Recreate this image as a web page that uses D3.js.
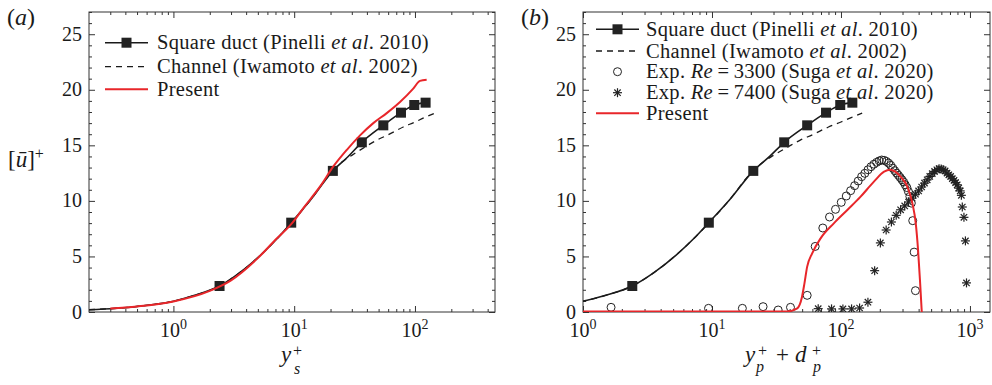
<!DOCTYPE html>
<html>
<head>
<meta charset="utf-8">
<script src="https://cdn.jsdelivr.net/npm/d3@7"></script>
<style>
  body { margin: 0; background: #fff; }
  svg { display: block; font-family: "Liberation Serif", "Times New Roman", serif; }
</style>
</head>
<body>
<svg id="chart" width="992" height="385"></svg>
<script>
// ---- data ----
// square duct DNS (Pinelli et al. 2010): line + markers
const ductYs = [0.2, 0.5, 1, 1.5, 2.41, 3.5, 5.3, 7.5, 9.45, 13.7, 20.9, 28, 36.3, 54.7, 76.6, 98.7, 122.5];
const ductU  = [0.2, 0.5, 0.97, 1.5, 2.34, 3.5, 5.15, 6.8, 8.04, 10.1, 12.7, 14.0, 15.27, 16.8, 17.94, 18.63, 18.84];
const ductMarkYs = [2.41, 9.45, 20.9, 36.3, 54.7, 76.6, 98.7, 122.5];
const ductMarkU  = [2.34, 8.04, 12.7, 15.27, 16.8, 17.94, 18.63, 18.84];
// channel (Iwamoto et al. 2002)
const chanYs = [0.2, 0.5, 1, 1.5, 2.41, 3.5, 5.3, 7.5, 9.45, 13.7, 20, 25.6, 30, 40, 48, 60, 80, 100, 120, 146];
const chanU  = [0.2, 0.5, 0.97, 1.5, 2.34, 3.5, 5.15, 6.8, 8.0, 10.1, 12.5, 13.6, 14.1, 14.95, 15.45, 15.95, 16.65, 17.1, 17.5, 17.9];
// present, panel (a)
const presAYs = [0.3, 0.5, 1, 2, 3, 5, 7, 9.45, 12, 16.4, 21.1, 27.3, 35.1, 45.2, 58.4, 75.2, 96.8, 110, 125];
const presAU  = [0.32, 0.5, 0.95, 1.9, 2.85, 4.85, 6.5, 7.9, 9.4, 11.3, 13.1, 14.6, 15.9, 17.0, 17.9, 18.9, 20.1, 20.8, 20.9];
// present, panel (b)
const presBYs = [1, 30, 38, 45.8, 49.9, 52.1, 54.7, 59.8, 69.5, 88, 112, 142, 180, 216, 240, 290, 327, 358, 380, 396, 411, 423];
const presBU  = [0.05, 0.05, 0.05, 0.33, 1.38, 2.58, 4.08, 5.28, 6.63, 7.98, 9.18, 10.38, 11.73, 12.63, 12.8, 12.18, 11.28, 9.78, 7.98, 5.58, 2.58, 0];
// experiment Re = 3300 (Suga et al. 2020)
const exp33Ys = [1.65, 9.4, 17.2, 24.9, 32.6, 40.6, 54.7, 63.1, 72.3, 81.5, 90.7, 100.5, 109.9, 118.8, 127.6, 136, 144.5, 153,
  162, 171, 180, 189, 198, 207, 216, 225, 234, 243, 252, 261, 270, 279, 288, 297, 306, 315, 324, 333, 342, 351, 360, 369, 378];
const exp33U  = [0.42, 0.33, 0.33, 0.48, 0.18, 0.42, 1.5, 5.9, 7.56, 8.55, 9.24, 9.87, 10.44, 10.92, 11.37, 11.79, 12.18, 12.48,
  12.8, 13.08, 13.3, 13.47, 13.6, 13.68, 13.65, 13.55, 13.4, 13.2, 12.95, 12.72, 12.5, 12.3, 12.1, 11.9, 11.7, 11.45, 11.2, 10.85, 10.4, 9.8, 8.22, 5.39, 1.92];
// experiment Re = 7400 (Suga et al. 2020)
const exp74Ys = [66.6, 84.5, 103.5, 120.8, 139.4, 161.8, 182.4, 202, 224, 246, 268, 290, 312, 334, 356, 378, 400, 422, 444, 466,
  488, 510, 532, 554, 576, 598, 620, 642, 664, 686, 708, 730, 752, 774, 796, 818, 840, 858, 872, 898, 922, 940];
const exp74U  = [0.3, 0.28, 0.28, 0.28, 0.36, 0.88, 3.72, 6.22, 7.38, 8.1, 8.7, 9.2, 9.55, 9.9, 10.25, 10.6, 10.9, 11.25, 11.6, 11.9,
  12.2, 12.45, 12.65, 12.8, 12.9, 12.88, 12.8, 12.7, 12.5, 12.35, 12.2, 12.0, 11.85, 11.65, 11.45, 11.15, 10.9, 10.5, 9.45, 8.52, 6.4, 2.62];

const yTicks = [0, 5, 10, 15, 20, 25];
const legendA = ["Square duct", "Channel", "Present"];
const legendB = ["Square duct", "Channel", "Exp3300", "Exp7400", "Present"];

const RED = "#e8262a";
const INK = "#1a1a1a";
const plotTop = 12, plotBottom = 312;

const svg = d3.select("#chart");
const zip = (xs, ys) => xs.map((v, i) => [v, ys[i]]);

function minorTicks(dom) {
  let out = [];
  for (let e = -1; e <= 3; e++) {
    for (let k = 2; k <= 9; k++) {
      const v = k * Math.pow(10, e);
      if (v > dom[0] && v < dom[1]) out.push(v);
    }
  }
  return out;
}

function makePanel(id, left, right, xDom, decades) {
  const x = d3.scaleLog().domain(xDom).range([left, right]);
  const y = d3.scaleLinear().domain([0, 27]).range([plotBottom, plotTop]);
  const g = svg.append("g").attr("class", "panel-" + id);

  g.append("clipPath").attr("id", "clip-" + id)
    .append("rect").attr("x", left).attr("y", plotTop).attr("width", right - left).attr("height", plotBottom - plotTop);

  const minors = minorTicks(xDom);
  const yMinor = d3.range(0, 28).filter(v => v % 5 != 0);

  // tick marks, all pointing inwards
  const axes = [
    [d3.axisBottom(x).tickValues(decades).tickSize(-6), `translate(0,${plotBottom})`],
    [d3.axisBottom(x).tickValues(minors).tickSize(-3), `translate(0,${plotBottom})`],
    [d3.axisTop(x).tickValues(decades).tickSize(-6), `translate(0,${plotTop})`],
    [d3.axisTop(x).tickValues(minors).tickSize(-3), `translate(0,${plotTop})`],
    [d3.axisLeft(y).tickValues(yTicks).tickSize(-6), `translate(${left},0)`],
    [d3.axisLeft(y).tickValues(yMinor).tickSize(-3), `translate(${left},0)`],
    [d3.axisRight(y).tickValues(yTicks).tickSize(-6), `translate(${right},0)`],
    [d3.axisRight(y).tickValues(yMinor).tickSize(-3), `translate(${right},0)`]
  ];
  axes.forEach(a => {
    const ax = g.append("g").attr("transform", a[1]).call(a[0].tickFormat("").tickSizeOuter(0));
    ax.select(".domain").remove();
    ax.selectAll("line").attr("stroke", "#333").attr("stroke-width", 1);
  });

  // y labels
  g.selectAll("text.ylab").data(yTicks).join("text")
    .attr("class", "ylab")
    .attr("x", left - 7).attr("y", d => y(d)).attr("dy", "0.33em")
    .attr("text-anchor", "end").attr("font-size", 20).attr("fill", INK)
    .text(d => d);

  // x labels 10^n
  const xl = g.selectAll("text.xlab").data(decades).join("text")
    .attr("class", "xlab")
    .attr("x", d => x(d)).attr("y", 336.5)
    .attr("text-anchor", "middle").attr("font-size", 20).attr("fill", INK);
  xl.append("tspan").text("10");
  xl.append("tspan").attr("dy", -8).attr("font-size", 14).text(d => Math.round(Math.log10(d)));

  // frame
  g.append("rect").attr("x", left).attr("y", plotTop)
    .attr("width", right - left).attr("height", plotBottom - plotTop)
    .attr("fill", "none").attr("stroke", "#333").attr("stroke-width", 1);

  const plot = g.append("g").attr("clip-path", `url(#clip-${id})`);
  return { x, y, g, plot };
}

function drawLine(p, data, opts) {
  const line = d3.line().x(d => p.x(d[0])).y(d => p.y(d[1])).curve(d3.curveMonotoneX);
  p.plot.append("path").datum(data)
    .attr("fill", "none")
    .attr("stroke", opts.color)
    .attr("stroke-width", opts.width)
    .attr("stroke-dasharray", opts.dash || null)
    .attr("d", line);
}

function drawSquares(p, data) {
  p.plot.selectAll("rect.sq").data(data).join("rect")
    .attr("class", "sq")
    .attr("x", d => p.x(d[0]) - 5).attr("y", d => p.y(d[1]) - 5)
    .attr("width", 10).attr("height", 10)
    .attr("fill", "#222");
}

function asterisk(sel, cx, cy, r) {
  [0, 45, 90, 135].forEach(a => {
    const t = a * Math.PI / 180;
    sel.append("line")
      .attr("x1", cx - r * Math.cos(t)).attr("y1", cy - r * Math.sin(t))
      .attr("x2", cx + r * Math.cos(t)).attr("y2", cy + r * Math.sin(t))
      .attr("stroke", "#222").attr("stroke-width", 1.2);
  });
}

// ---------- panel (a) ----------
const pa = makePanel("a", 89, 495, [0.2, 460], [1, 10, 100]);
drawLine(pa, zip(chanYs, chanU), { color: INK, width: 1.3, dash: "6,5" });
drawLine(pa, zip(ductYs, ductU), { color: INK, width: 1.6 });
drawSquares(pa, zip(ductMarkYs, ductMarkU));
drawLine(pa, zip(presAYs, presAU), { color: RED, width: 2 });

// ---------- panel (b) ----------
const pb = makePanel("b", 583, 990, [1, 1430], [1, 10, 100, 1000]);
drawLine(pb, zip(chanYs, chanU), { color: INK, width: 1.3, dash: "6,5" });
drawLine(pb, zip(ductYs, ductU), { color: INK, width: 1.6 });
drawSquares(pb, zip(ductMarkYs, ductMarkU));
pb.plot.selectAll("circle.e33").data(zip(exp33Ys, exp33U)).join("circle")
  .attr("class", "e33")
  .attr("cx", d => pb.x(d[0])).attr("cy", d => pb.y(d[1])).attr("r", 4)
  .attr("fill", "none").attr("stroke", "#222").attr("stroke-width", 1);
const starG = pb.plot.append("g");
zip(exp74Ys, exp74U).forEach(d => asterisk(starG, pb.x(d[0]), pb.y(d[1]), 4.5));
drawLine(pb, zip(presBYs, presBU), { color: RED, width: 2 });

// ---------- legends ----------
function legendText(t, xPos, yPos, parts) {
  const el = svg.append("text").attr("x", xPos).attr("y", yPos + 6.5)
    .attr("font-size", 20.5).attr("letter-spacing", 0.3).attr("fill", INK);
  parts.forEach(pt => {
    el.append("tspan").attr("font-style", pt[1] ? "italic" : null).text(pt[0]);
  });
}
const labelParts = {
  "Square duct": [["Square duct (Pinelli ", 0], ["et al", 1], [". 2010)", 0]],
  "Channel": [["Channel (Iwamoto ", 0], ["et al", 1], [". 2002)", 0]],
  "Exp3300": [["Exp. ", 0], ["Re", 1], ["\u2009=\u20093300 (Suga ", 0], ["et al", 1], [". 2020)", 0]],
  "Exp7400": [["Exp. ", 0], ["Re", 1], ["\u2009=\u20097400 (Suga ", 0], ["et al", 1], [". 2020)", 0]],
  "Present": [["Present", 0]]
};

function drawLegend(keys, x0, x1, tx, rows) {
  const mid = (x0 + x1) / 2;
  keys.forEach((k, i) => {
    const yy = rows[i];
    if (k == "Square duct") {
      svg.append("line").attr("x1", x0).attr("x2", x1).attr("y1", yy).attr("y2", yy)
        .attr("stroke", INK).attr("stroke-width", 1.6);
      svg.append("rect").attr("x", mid - 5).attr("y", yy - 5).attr("width", 10).attr("height", 10).attr("fill", "#222");
    } else if (k == "Channel") {
      svg.append("line").attr("x1", x0).attr("x2", x1).attr("y1", yy).attr("y2", yy)
        .attr("stroke", INK).attr("stroke-width", 1.3).attr("stroke-dasharray", "6,5");
    } else if (k == "Present") {
      svg.append("line").attr("x1", x0).attr("x2", x1).attr("y1", yy).attr("y2", yy)
        .attr("stroke", RED).attr("stroke-width", 2);
    } else if (k == "Exp3300") {
      svg.append("circle").attr("cx", mid).attr("cy", yy).attr("r", 4)
        .attr("fill", "none").attr("stroke", "#222").attr("stroke-width", 1);
    } else {
      asterisk(svg.append("g"), mid, yy, 4.5);
    }
    legendText(k, tx, yy, labelParts[k]);
  });
}
drawLegend(legendA, 105, 148, 157, [42.7, 66.7, 89.3]);
drawLegend(legendB, 596, 639, 646, [29.3, 51, 71.7, 92.7, 113.3]);

// ---------- panel tags and axis titles ----------
function tag(txt, xPos) {
  const t = svg.append("text").attr("x", xPos).attr("y", 25).attr("font-size", 24).attr("fill", INK);
  t.append("tspan").text("(");
  t.append("tspan").attr("font-style", "italic").text(txt);
  t.append("tspan").text(")");
}
tag("a", 7);
tag("b", 521);

function put(txt, xPos, yPos, size, italic) {
  svg.append("text").attr("x", xPos).attr("y", yPos).attr("font-size", size)
    .attr("font-style", italic ? "italic" : null).attr("fill", INK).text(txt);
}
// y-axis title [ū]+
const yt = svg.append("text").attr("x", 8).attr("y", 167).attr("font-size", 23).attr("fill", INK);
yt.append("tspan").text("[");
yt.append("tspan").attr("font-style", "italic").text("\u016B");
yt.append("tspan").text("]");
yt.append("tspan").attr("dy", -8).attr("font-size", 16).text("+");

// x title (a): y_s^+
put("y", 281, 362, 23, true);
put("+", 293, 356, 16, false);
put("s", 294, 374, 16, true);
// x title (b): y_p^+ + d_p^+
put("y", 745, 362, 23, true);
put("+", 758, 356, 16, false);
put("p", 756, 372, 16, true);
put("+", 776, 362, 23, false);
put("d", 795, 362, 23, true);
put("+", 812, 356, 16, false);
put("p", 813, 372, 16, true);
</script>
</body>
</html>
